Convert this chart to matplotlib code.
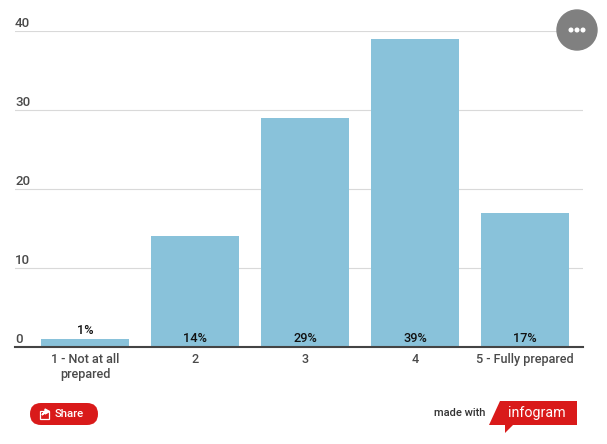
import matplotlib
matplotlib.use('Agg')
import matplotlib.pyplot as plt
from matplotlib.patches import Circle, FancyBboxPatch, Polygon, Rectangle

categories = ['1 - Not at all\nprepared', '2', '3', '4', '5 - Fully prepared']
values = [1, 14, 29, 39, 17]
value_labels = ['1%', '14%', '29%', '39%', '17%']
y_ticks = [0, 10, 20, 30, 40]

W, H = 607, 444
plt.rcParams['font.family'] = ['Roboto', 'DejaVu Sans']

fig = plt.figure(figsize=(W / 100, H / 100), dpi=100)

# plot area in pixels: x 15-583, y 31-347
ax = fig.add_axes([15 / W, 1 - 347 / H, 568 / W, 316 / H])
x = list(range(len(values)))
ax.bar(x, values, width=0.8, color='#89c2da', zorder=2)
ax.set_xlim(-0.636, 4.527)
ax.set_ylim(0, 40)

for s in ['top', 'left', 'right']:
    ax.spines[s].set_visible(False)
ax.spines['bottom'].set_color('#444444')
ax.spines['bottom'].set_linewidth(1.5)
ax.spines['bottom'].set_zorder(3)

ax.set_yticks(y_ticks)
ax.set_yticklabels([])
ax.grid(axis='y', color='#d9d9d9', linewidth=0.8, zorder=1)
ax.tick_params(axis='both', length=0)
ax.set_xticks(x)
ax.set_xticklabels(categories, fontsize=9.1, fontweight='medium', color='#4a4a4a',
                   linespacing=1.25)
ax.tick_params(axis='x', pad=4)

# y labels sit on top of the gridlines, at the left
for t in y_ticks:
    ax.annotate(str(t), (0, t), xycoords=('axes fraction', 'data'), xytext=(0, 1),
                textcoords='offset points', fontsize=9.5, fontweight='medium',
                color='#4a4a4a', ha='left', va='bottom', zorder=4)

for i, v in enumerate(values):
    # the small bar has no room, so its label goes above it
    base = v if v < 3 else 0
    ax.annotate(value_labels[i], (i, base), xytext=(0, 1.5), textcoords='offset points',
                ha='center', va='bottom', fontsize=9.2, fontweight='medium', color='#111111',
                zorder=4)

# overlay in pixel coordinates for the widgets
ov = fig.add_axes([0, 0, 1, 1], facecolor='none')
ov.set_xlim(0, W)
ov.set_ylim(H, 0)
ov.axis('off')

# menu button
ov.add_patch(Circle((577, 30), 20, color='#808080', zorder=5))
for dx in [-6, 0, 6]:
    ov.add_patch(Circle((577 + dx, 30), 1.8, color='white', zorder=6))

# share button
ov.add_patch(FancyBboxPatch((30, 403), 68, 22, boxstyle='round,pad=0,rounding_size=11',
                            linewidth=0, color='#d91a1a', zorder=5))
ov.add_patch(Rectangle((39.5, 411), 9, 8, fill=False, edgecolor='white', linewidth=0.9, zorder=6))
ov.add_patch(Polygon([(42, 415), (45, 411), (45, 409), (49.5, 411.5), (45, 414), (45, 412.5)],
                     closed=True, color='white', zorder=7))
ov.text(55, 414, 'Share', color='white', fontsize=8.2, fontweight='medium',
        ha='left', va='center', zorder=6)

# infogram logo
ov.add_patch(Polygon([(500, 401), (577, 401), (577, 425), (513, 425), (505, 433),
                      (505, 425), (489, 425)], closed=True, linewidth=0, color='#d91a1a', zorder=5))
ov.text(537, 413, 'infogram', color='white', fontsize=10.3, ha='center', va='center', zorder=6)
ov.text(459.5, 413, 'made with', color='#333333', fontsize=8, fontweight='medium',
        ha='center', va='center', zorder=6)

fig.savefig('out.png', dpi=100)
